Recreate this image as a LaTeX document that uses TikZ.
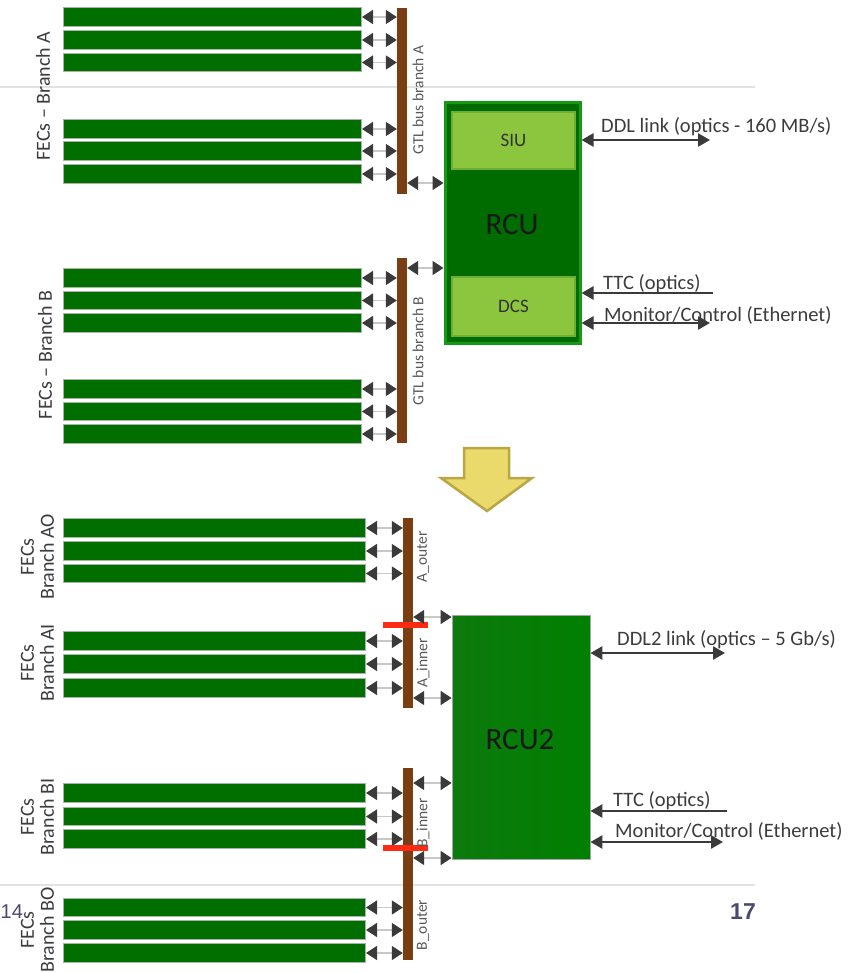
\documentclass[tikz,border=0pt]{standalone}
\usepackage{fontspec}
\setmainfont{Carlito}
\newfontfamily\arialf{Liberation Sans}
\usetikzlibrary{arrows.meta}
\definecolor{fecgreen}{HTML}{006F00}
\definecolor{fecedge}{HTML}{A8B4A8}
\definecolor{busbrown}{HTML}{7A3E12}
\definecolor{rcufill}{HTML}{006C00}
\definecolor{rcuedge}{HTML}{169A16}
\definecolor{lightg}{HTML}{8CC63F}
\definecolor{lightgedge}{HTML}{6EAE30}
\definecolor{arrowgray}{HTML}{3A3A3A}
\definecolor{linkgray}{HTML}{C8C8C8}
\definecolor{txtgray}{HTML}{3C3C3C}
\definecolor{sepgray}{HTML}{E2E2E2}
\definecolor{yel}{HTML}{EAD96B}
\definecolor{yeledge}{HTML}{B8A744}
\definecolor{redbar}{HTML}{FF2A14}
\definecolor{pagenum}{HTML}{4A4A70}
\newcommand\myfs[1]{\fontsize{#1}{#1}\selectfont}
\tikzset{
  fec/.style={fill=fecgreen, draw=fecedge, line width=1pt, minimum height=18.5pt, inner sep=0pt},
  bus/.style={fill=busbrown, inner sep=0pt, minimum width=10pt},
  redcut/.style={fill=redbar, inner sep=0pt, minimum width=45pt, minimum height=6pt},
  link/.style={draw=linkgray, line width=1.5pt,
    {Triangle[length=11pt,width=14pt,color=arrowgray]}-{Triangle[length=11pt,width=14pt,color=arrowgray]}},
  biglink/.style={draw=arrowgray, line width=2.5pt,
    {Triangle[length=12pt,width=13pt]}-{Triangle[length=12pt,width=13pt]}},
  inlink/.style={draw=arrowgray, line width=2.5pt, {Triangle[length=12pt,width=13pt]}-},
  lbl/.style={text=txtgray, inner sep=0pt, font=\myfs{20.5}},
  fecl/.style={text=txtgray, inner sep=0pt, rotate=90, font=\myfs{20}, align=center},
  busl/.style={text=txtgray!85, inner sep=0pt, rotate=90, font=\myfs{15.5}},
  sub/.style={fill=lightg, draw=lightgedge, line width=1.5pt, inner sep=0pt, text=black!80, font=\myfs{19}},
}
\begin{document}
\begin{tikzpicture}[x=1pt,y=-1pt]
\useasboundingbox (0,0) rectangle (854,973);
\fill[white] (0,0) rectangle (854,973);
% separator lines
\coordinate (sepAl) at (0,87); \coordinate (sepAr) at (755,87);
\coordinate (sepBl) at (0,885); \coordinate (sepBr) at (755,885);
\draw[sepgray, line width=2pt] (sepAl) -- (sepAr);
\draw[sepgray, line width=2pt] (sepBl) -- (sepBr);

% ===== top: RCU =====
\node[bus, minimum height=186pt] (busA) at (402,101) {};
\node[bus, minimum height=185pt] (busB) at (402,350.5) {};
\node[busl] (busAl) at (418,100) {GTL bus branch A};
\node[busl] (busBl) at (418,351) {GTL bus branch B};

\foreach \n/\y in {a1/17,a2/40,a3/62.5,a4/129,a5/151,a6/174}{
  \node[fec, minimum width=298pt, anchor=west] (\n) at (63,\y) {};
  \draw[link] (\n.east) -- (\n.east -| busA.west);
}
\foreach \n/\y in {b1/278,b2/300.5,b3/323,b4/389,b5/411.5,b6/434}{
  \node[fec, minimum width=298pt, anchor=west] (\n) at (63,\y) {};
  \draw[link] (\n.east) -- (\n.east -| busB.west);
}
\node[fecl] (flA) at (43,96) {FECs -- Branch A};
\node[fecl] (flB) at (45,355) {FECs -- Branch B};

\node[fill=rcufill, draw=rcuedge, line width=3pt, minimum width=135pt, minimum height=240pt, inner sep=0pt] (rcu) at (512.5,223) {};
\node[text=black!90, font=\myfs{31}] (rcut) at (512,225) {RCU};
\node[sub, minimum width=123pt, minimum height=57pt] (siu) at (513.5,140.5) {SIU};
\node[sub, minimum width=123pt, minimum height=59pt] (dcs) at (513.5,306.5) {DCS};

\draw[link] (busA.east |- 0,183) -- (rcu.west |- 0,183);
\draw[link] (busB.east |- 0,268) -- (rcu.west |- 0,268);

\coordinate (ddlend) at (710,140);
\coordinate (ttcend) at (713,293);
\coordinate (monend) at (710,323);
\draw[biglink] (rcu.east |- ddlend) -- (ddlend);
\draw[inlink] (rcu.east |- ttcend) -- (ttcend);
\draw[biglink] (rcu.east |- monend) -- (monend);
\node[lbl, anchor=base west] (ddlt) at (601,133) {DDL link (optics - 160 MB/s)};
\node[lbl, anchor=base west] (ttct) at (603,289) {TTC (optics)};
\node[lbl, anchor=base west] (mont) at (604,321) {Monitor/Control (Ethernet)};

% ===== yellow arrow =====
\draw[fill=yel, draw=yeledge, line width=2.5pt, line join=miter]
  (464,448) -- (509,448) -- (509,478) -- (532,478) -- (487,511) -- (441,478) -- (464,478) -- cycle;

% ===== bottom: RCU2 =====
\node[bus, minimum height=190pt] (busC) at (408,613) {};
\node[bus, minimum height=192pt] (busD) at (408,864) {};

\foreach \n/\y in {c1/528,c2/551,c3/573.5,c4/641,c5/664,c6/688}{
  \node[fec, minimum width=302pt, anchor=west] (\n) at (63,\y) {};
  \draw[link] (\n.east) -- (\n.east -| busC.west);
}
\foreach \n/\y in {d1/793,d2/816.5,d3/839,d4/907.5,d5/930,d6/953}{
  \node[fec, minimum width=302pt, anchor=west] (\n) at (63,\y) {};
  \draw[link] (\n.east) -- (\n.east -| busD.west);
}
\node[redcut] (redA) at (405.5,625) {};
\node[redcut] (redB) at (405.5,848) {};

\node[busl] (l1) at (423,557) {A\_outer};
\node[busl] (l2) at (423,663) {A\_inner};
\node[busl] (l3) at (423,823) {B\_inner};
\node[busl] (l4) at (423,925) {B\_outer};

\node[fecl] (f1) at (37.5,557) {FECs\\Branch AO};
\node[fecl] (f2) at (37.5,663) {FECs\\Branch AI};
\node[fecl] (f3) at (37.5,817) {FECs\\Branch BI};
\node[fecl] (f4) at (37.5,930) {FECs\\Branch BO};

\node[left color=green!45!black!95, right color=green!50!black, draw=black!35, line width=0.8pt,
  minimum width=138pt, minimum height=244pt, inner sep=0pt] (rcu2) at (521,737) {};
\node[text=black!90, font=\myfs{31}] (rcu2t) at (520,740) {RCU2};

\draw[link] (busC.east |- 0,617) -- (rcu2.west |- 0,617);
\draw[link] (busC.east |- 0,698) -- (rcu2.west |- 0,698);
\draw[link] (busD.east |- 0,783) -- (rcu2.west |- 0,783);
\draw[link] (busD.east |- 0,858) -- (rcu2.west |- 0,858);

\coordinate (ddl2end) at (725,653);
\coordinate (ttc2end) at (727,811);
\coordinate (mon2end) at (723,842);
\draw[biglink] (rcu2.east |- ddl2end) -- (ddl2end);
\draw[inlink] (rcu2.east |- ttc2end) -- (ttc2end);
\draw[biglink] (rcu2.east |- mon2end) -- (mon2end);
\node[lbl, anchor=base west] (ddl2t) at (617,645) {DDL2 link (optics -- 5 Gb/s)};
\node[lbl, anchor=base west] (ttc2t) at (613,806) {TTC (optics)};
\node[lbl, anchor=base west] (mon2t) at (615,837) {Monitor/Control (Ethernet)};

% page numbers
\node[text=pagenum, font=\arialf\myfs{20}, anchor=west, inner sep=0pt] (p14) at (0.5,912) {14};
\node[text=pagenum, font=\arialf\bfseries\myfs{23}, anchor=east, inner sep=0pt] (p17) at (756,912) {17};
\end{tikzpicture}
\end{document}
